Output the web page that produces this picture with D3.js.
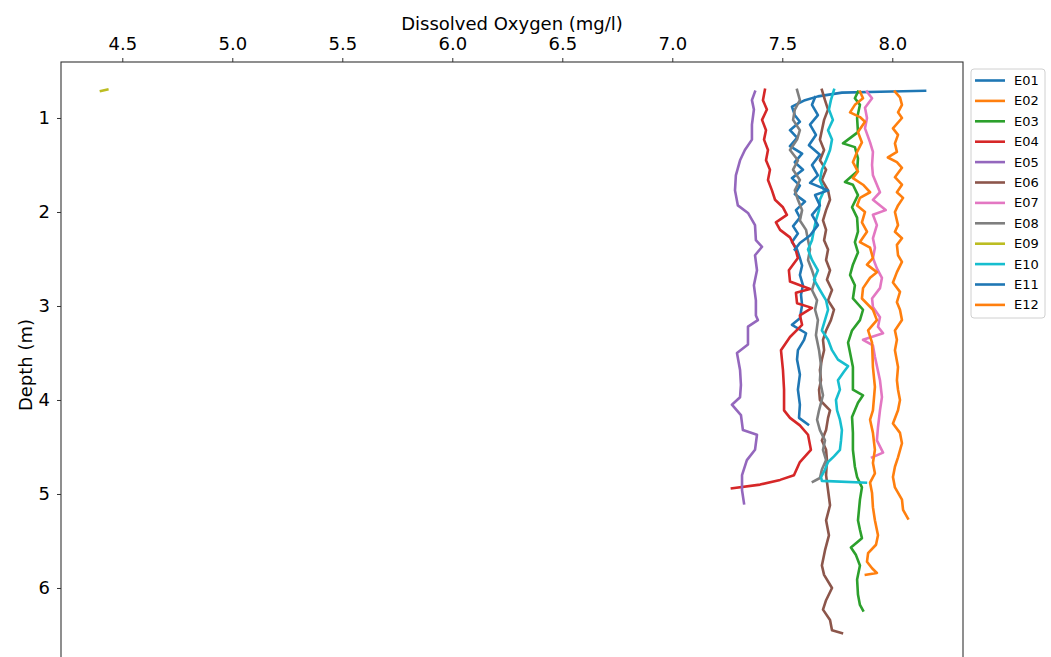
<!DOCTYPE html>
<html>
<head>
<meta charset="utf-8">
<script src="https://cdn.jsdelivr.net/npm/d3@7"></script>
<style>
  body { margin: 0; background: #fff; }
  text { font-family: "DejaVu Sans", sans-serif; fill: #000; }
</style>
</head>
<body>
<div id="chart"></div>
<script>
// profile data: [depth (m), dissolved oxygen (mg/l)]
var stations = ["E01", "E02", "E03", "E04", "E05", "E06", "E07", "E08", "E09", "E10", "E11", "E12"];
var xTicks = [4.5, 5.0, 5.5, 6.0, 6.5, 7.0, 7.5, 8.0];
var yTicks = [1, 2, 3, 4, 5, 6];

var e01 = [[0.71,8.149],[0.72,7.944],[0.73,7.771],[0.77,7.662],[0.81,7.603],[0.88,7.544],[0.97,7.557],[1.04,7.580],[1.13,7.535],[1.21,7.567],[1.30,7.535],[1.38,7.590],[1.47,7.557],[1.55,7.594],[1.64,7.544],[1.72,7.580],[1.81,7.557],[1.89,7.603],[1.98,7.562],[2.06,7.580],[2.15,7.549],[2.23,7.571],[2.32,7.544],[2.40,7.567],[2.49,7.580],[2.57,7.590],[2.67,7.580],[2.78,7.594],[2.88,7.585],[2.99,7.590],[3.13,7.580],[3.20,7.544],[3.29,7.608],[3.36,7.599],[3.47,7.571],[3.57,7.567],[3.73,7.580],[3.89,7.571],[4.05,7.580],[4.19,7.576],[4.26,7.617]];
var e02 = [[0.72,8.012],[0.78,8.035],[0.86,8.044],[0.94,8.026],[1.00,8.044],[1.11,8.003],[1.18,8.026],[1.27,8.012],[1.36,8.021],[1.42,7.980],[1.47,8.021],[1.53,8.044],[1.63,8.012],[1.71,8.044],[1.79,8.021],[1.85,8.049],[1.93,8.026],[2.00,8.012],[2.14,8.026],[2.21,8.012],[2.28,8.044],[2.35,8.021],[2.46,8.026],[2.53,8.044],[2.64,8.021],[2.75,8.003],[2.85,8.035],[2.96,8.021],[3.04,8.035],[3.15,8.044],[3.26,8.012],[3.36,8.021],[3.47,8.012],[3.65,8.026],[3.79,8.021],[3.89,8.026],[4.00,8.035],[4.11,8.026],[4.25,8.003],[4.35,8.035],[4.46,8.044],[4.61,8.026],[4.71,8.012],[4.82,8.003],[4.93,8.012],[5.06,8.044],[5.17,8.049],[5.26,8.071]];
var e03 = [[0.72,7.844],[0.79,7.830],[0.86,7.853],[1.00,7.840],[1.15,7.844],[1.27,7.776],[1.31,7.830],[1.43,7.844],[1.57,7.840],[1.68,7.785],[1.71,7.821],[1.82,7.844],[1.95,7.817],[2.06,7.840],[2.21,7.844],[2.32,7.830],[2.43,7.844],[2.56,7.821],[2.67,7.808],[2.78,7.830],[2.92,7.821],[3.04,7.867],[3.15,7.853],[3.26,7.817],[3.39,7.799],[3.65,7.821],[3.89,7.821],[3.95,7.867],[4.03,7.844],[4.18,7.817],[4.35,7.821],[4.53,7.821],[4.71,7.830],[4.82,7.840],[4.93,7.862],[5.06,7.853],[5.28,7.844],[5.38,7.853],[5.47,7.862],[5.57,7.812],[5.65,7.835],[5.76,7.853],[5.91,7.840],[6.07,7.844],[6.18,7.853],[6.24,7.867]];
var e04 = [[0.70,7.421],[0.81,7.412],[0.91,7.430],[1.02,7.408],[1.13,7.426],[1.23,7.417],[1.34,7.435],[1.45,7.426],[1.55,7.444],[1.66,7.435],[1.77,7.453],[1.87,7.467],[1.95,7.503],[2.03,7.521],[2.11,7.471],[2.19,7.490],[2.27,7.535],[2.37,7.557],[2.49,7.571],[2.62,7.530],[2.74,7.535],[2.82,7.626],[2.86,7.562],[2.97,7.567],[3.02,7.635],[3.10,7.580],[3.20,7.590],[3.33,7.535],[3.47,7.494],[3.68,7.503],[3.89,7.508],[4.11,7.508],[4.19,7.535],[4.27,7.580],[4.37,7.617],[4.53,7.630],[4.66,7.580],[4.80,7.553],[4.85,7.490],[4.90,7.399],[4.94,7.271]];
var e05 = [[0.72,7.376],[0.81,7.362],[0.91,7.371],[1.07,7.362],[1.23,7.362],[1.34,7.330],[1.45,7.308],[1.61,7.289],[1.77,7.285],[1.93,7.298],[2.01,7.344],[2.14,7.376],[2.30,7.380],[2.37,7.408],[2.46,7.376],[2.62,7.385],[2.78,7.371],[2.94,7.380],[3.10,7.380],[3.15,7.389],[3.22,7.344],[3.41,7.344],[3.50,7.294],[3.68,7.308],[3.84,7.312],[3.97,7.308],[4.05,7.271],[4.16,7.312],[4.32,7.321],[4.37,7.385],[4.53,7.376],[4.64,7.339],[4.80,7.317],[4.96,7.317],[5.10,7.326]];
var e06 = [[0.70,7.680],[0.81,7.694],[0.91,7.708],[1.02,7.690],[1.13,7.680],[1.23,7.671],[1.34,7.690],[1.45,7.671],[1.55,7.699],[1.66,7.680],[1.77,7.708],[1.87,7.717],[1.98,7.699],[2.09,7.685],[2.19,7.699],[2.30,7.690],[2.40,7.708],[2.51,7.699],[2.62,7.717],[2.72,7.703],[2.83,7.726],[2.94,7.708],[3.04,7.735],[3.15,7.721],[3.26,7.699],[3.36,7.685],[3.47,7.690],[3.57,7.680],[3.68,7.671],[3.79,7.676],[3.89,7.667],[4.00,7.671],[4.11,7.717],[4.19,7.708],[4.32,7.699],[4.43,7.680],[4.53,7.699],[4.64,7.703],[4.80,7.699],[4.96,7.708],[5.12,7.717],[5.28,7.699],[5.44,7.712],[5.60,7.694],[5.76,7.680],[5.86,7.690],[6.00,7.726],[6.13,7.699],[6.23,7.685],[6.34,7.717],[6.45,7.726],[6.48,7.771]];
var e07 = [[0.72,7.885],[0.79,7.908],[0.89,7.876],[1.00,7.885],[1.11,7.876],[1.26,7.899],[1.36,7.912],[1.50,7.908],[1.61,7.912],[1.71,7.930],[1.79,7.944],[1.87,7.912],[1.98,7.970],[2.03,7.912],[2.14,7.930],[2.28,7.912],[2.38,7.921],[2.49,7.912],[2.60,7.930],[2.70,7.953],[2.81,7.944],[2.92,7.908],[3.01,7.912],[3.12,7.944],[3.22,7.935],[3.29,7.958],[3.36,7.867],[3.42,7.912],[3.54,7.921],[3.79,7.944],[3.97,7.953],[4.11,7.944],[4.29,7.935],[4.43,7.930],[4.56,7.958],[4.61,7.908]];
var e08 = [[0.70,7.567],[0.81,7.580],[0.91,7.557],[1.02,7.549],[1.13,7.580],[1.23,7.567],[1.34,7.535],[1.45,7.571],[1.55,7.549],[1.66,7.580],[1.77,7.557],[1.87,7.571],[1.98,7.590],[2.09,7.580],[2.19,7.608],[2.30,7.617],[2.40,7.626],[2.51,7.617],[2.62,7.635],[2.72,7.649],[2.83,7.635],[2.94,7.658],[3.04,7.649],[3.15,7.662],[3.31,7.653],[3.47,7.667],[3.63,7.676],[3.79,7.671],[3.95,7.685],[4.11,7.667],[4.21,7.658],[4.32,7.671],[4.43,7.694],[4.53,7.685],[4.64,7.699],[4.74,7.680],[4.83,7.671],[4.87,7.639]];
var e09 = [[0.713,4.403],[0.705,4.418],[0.698,4.432]];
var e10 = [[0.70,7.735],[0.81,7.721],[0.91,7.712],[1.02,7.730],[1.13,7.708],[1.23,7.726],[1.34,7.717],[1.45,7.699],[1.55,7.680],[1.66,7.671],[1.77,7.690],[1.87,7.671],[1.98,7.667],[2.09,7.653],[2.19,7.644],[2.30,7.635],[2.40,7.617],[2.51,7.635],[2.62,7.662],[2.72,7.644],[2.83,7.671],[2.94,7.699],[3.04,7.708],[3.15,7.694],[3.26,7.680],[3.36,7.708],[3.47,7.726],[3.57,7.753],[3.64,7.799],[3.70,7.780],[3.79,7.753],[3.89,7.762],[4.00,7.744],[4.11,7.749],[4.21,7.762],[4.32,7.771],[4.43,7.767],[4.53,7.762],[4.60,7.735],[4.66,7.708],[4.74,7.694],[4.82,7.676],[4.86,7.680],[4.88,7.880]];
var e11 = [[0.78,7.649],[0.86,7.635],[0.97,7.662],[1.07,7.626],[1.18,7.653],[1.29,7.621],[1.39,7.671],[1.50,7.635],[1.61,7.662],[1.69,7.626],[1.77,7.708],[1.82,7.649],[1.93,7.671],[2.03,7.635],[2.14,7.662],[2.25,7.626],[2.33,7.580],[2.40,7.557]];
var e12 = [[0.72,7.853],[0.79,7.867],[0.86,7.830],[0.94,7.808],[0.99,7.853],[1.04,7.876],[1.15,7.844],[1.26,7.862],[1.36,7.840],[1.47,7.821],[1.57,7.844],[1.64,7.821],[1.71,7.867],[1.79,7.899],[1.85,7.853],[1.93,7.840],[2.00,7.876],[2.11,7.862],[2.21,7.885],[2.32,7.853],[2.38,7.899],[2.49,7.912],[2.56,7.885],[2.64,7.930],[2.70,7.899],[2.81,7.867],[2.92,7.862],[3.04,7.912],[3.15,7.930],[3.26,7.890],[3.39,7.908],[3.65,7.912],[3.86,7.921],[4.11,7.912],[4.21,7.899],[4.35,7.912],[4.53,7.921],[4.67,7.912],[4.78,7.921],[4.88,7.899],[4.99,7.908],[5.14,7.912],[5.28,7.921],[5.44,7.935],[5.54,7.926],[5.63,7.890],[5.72,7.885],[5.79,7.908],[5.84,7.930],[5.86,7.880]];

var profiles = [e01, e02, e03, e04, e05, e06, e07, e08, e09, e10, e11, e12];
var colors = ["#1f77b4", "#ff7f0e", "#2ca02c", "#d62728", "#9467bd", "#8c564b",
  "#e377c2", "#7f7f7f", "#bcbd22", "#17becf", "#1f77b4", "#ff7f0e"];

var svgWidth = 1051;
var svgHeight = 657;

// plot area (bottom runs past the picture edge)
var margin = { top: 62, left: 61 };
var width = 902;
var height = 612;

var svg = d3.select("#chart")
  .append("svg")
  .attr("width", svgWidth)
  .attr("height", svgHeight);

var chartGroup = svg.append("g")
  .attr("transform", `translate(${margin.left}, ${margin.top})`);

// scales: x on top, depth increasing downward
var xScale = d3.scaleLinear()
  .domain([4.2214, 8.3214])
  .range([0, width]);

var yScale = d3.scaleLinear()
  .domain([0.4043, 6.915])
  .range([0, height]);

chartGroup.append("clipPath")
  .attr("id", "plotClip")
  .append("rect")
  .attr("width", width)
  .attr("height", height);

var line = d3.line()
  .x(d => xScale(d[1]))
  .y(d => yScale(d[0]));

chartGroup.append("g")
  .attr("clip-path", "url(#plotClip)")
  .selectAll("path")
  .data(profiles)
  .enter()
  .append("path")
  .attr("d", line)
  .attr("fill", "none")
  .attr("stroke", (d, i) => colors[i])
  .attr("stroke-width", 2.6)
  .attr("stroke-linejoin", "round")
  .attr("stroke-linecap", "square");

// axes
var topAxis = d3.axisTop(xScale)
  .tickValues(xTicks)
  .tickFormat(d3.format(".1f"))
  .tickSize(4)
  .tickPadding(8);

var leftAxis = d3.axisLeft(yScale)
  .tickValues(yTicks)
  .tickFormat(d3.format("d"))
  .tickSize(4)
  .tickPadding(7);

var xAxisG = chartGroup.append("g").call(topAxis);
var yAxisG = chartGroup.append("g").call(leftAxis);

[xAxisG, yAxisG].forEach(function (g) {
  g.select(".domain").remove();
  g.selectAll(".tick line").attr("stroke", "#333").attr("stroke-width", 1);
  g.selectAll(".tick text")
    .attr("fill", "#000")
    .style("font-family", "DejaVu Sans, sans-serif")
    .style("font-size", "18px");
});

// frame
chartGroup.append("rect")
  .attr("width", width)
  .attr("height", height)
  .attr("fill", "none")
  .attr("stroke", "#333")
  .attr("stroke-width", 1.1);

// axis labels
svg.append("text")
  .attr("x", margin.left + width / 2)
  .attr("y", 30)
  .attr("text-anchor", "middle")
  .style("font-size", "18px")
  .text("Dissolved Oxygen (mg/l)");

svg.append("text")
  .attr("transform", `translate(32, ${margin.top + height / 2 - 3}) rotate(-90)`)
  .attr("text-anchor", "middle")
  .style("font-size", "18px")
  .text("Depth (m)");

// legend
var legend = svg.append("g")
  .attr("transform", "translate(971, 69)");

legend.append("rect")
  .attr("width", 74)
  .attr("height", 249)
  .attr("rx", 3)
  .attr("fill", "#fff")
  .attr("stroke", "#d0d0d0");

var items = legend.selectAll(".item")
  .data(stations)
  .enter()
  .append("g")
  .attr("transform", (d, i) => `translate(0, ${11.5 + i * 20.4})`);

items.append("line")
  .attr("x1", 4)
  .attr("x2", 34)
  .attr("stroke", (d, i) => colors[i])
  .attr("stroke-width", 2.6);

items.append("text")
  .attr("x", 43)
  .attr("dy", "0.35em")
  .style("font-size", "13px")
  .text(d => d);
</script>
</body>
</html>
